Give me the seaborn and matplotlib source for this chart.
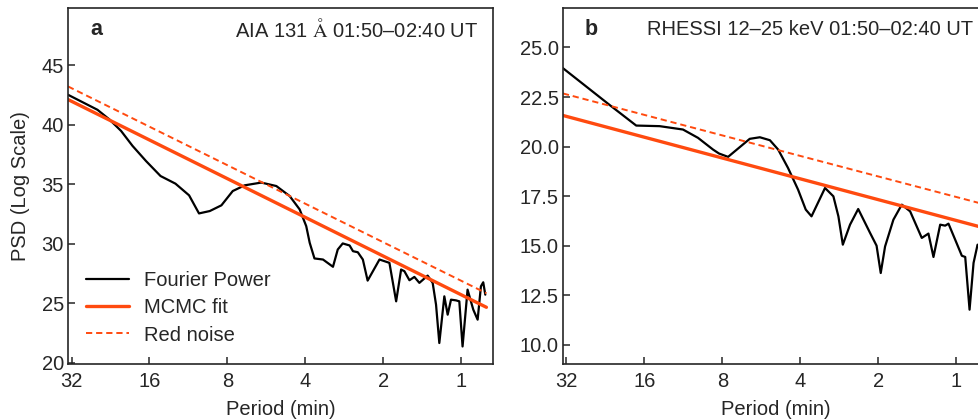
import matplotlib
matplotlib.use("Agg")
import matplotlib.pyplot as plt
import pandas as pd
import seaborn as sns

# Panel a: AIA 131 A Fourier power spectrum (period in min, log PSD)
aia_period = [33.0, 25.4, 22.9, 20.6, 18.6, 16.5, 14.5, 12.7, 11.25, 10.3, 9.36, 8.44,
              7.63, 6.86, 5.92, 5.18, 4.60, 4.21, 3.97, 3.85, 3.69, 3.42, 3.13, 3.00,
              2.87, 2.70, 2.62, 2.51, 2.40, 2.30, 2.07, 1.895, 1.785, 1.708, 1.659,
              1.586, 1.518, 1.452, 1.349, 1.290, 1.252, 1.216, 1.163, 1.129, 1.096,
              1.048, 1.018, 0.989, 0.946, 0.899, 0.865, 0.840, 0.823, 0.808]
aia_power = [42.5, 41.24, 40.45, 39.47, 38.21, 36.94, 35.68, 35.04, 34.06, 32.54, 32.74, 33.22,
             34.42, 34.90, 35.13, 34.84, 34.0, 32.88, 31.47, 30.08, 28.76, 28.67, 28.06, 29.51,
             30.02, 29.85, 29.37, 29.28, 28.67, 26.90, 28.67, 28.39, 25.16, 27.83, 27.69,
             26.93, 27.21, 26.71, 27.32, 26.71, 24.88, 21.66, 25.58, 24.04, 25.30,
             25.24, 25.16, 21.37, 26.14, 24.46, 23.62, 26.42, 26.76, 25.72]
aia_fit_period = [33.0, 0.80]
aia_fit = [42.1, 24.66]
aia_red_noise = [43.2, 25.84]

# Panel b: RHESSI 12-25 keV
hxr_period = [33.1, 21.5, 17.2, 13.97, 11.35, 9.93, 8.69, 8.24, 7.60, 6.27, 5.73, 5.24,
              4.87, 4.46, 4.08, 3.81, 3.62, 3.21, 2.98, 2.85, 2.74, 2.57, 2.39, 2.15,
              2.03, 1.956, 1.882, 1.748, 1.622, 1.506, 1.358, 1.280, 1.224, 1.153, 1.103,
              1.071, 1.009, 0.951, 0.923, 0.888, 0.857, 0.827, 0.815, 0.80]
hxr_power = [23.97, 22.04, 21.06, 21.03, 20.86, 20.44, 19.85, 19.65, 19.48, 20.39, 20.47, 20.32,
             19.85, 18.92, 17.83, 16.82, 16.48, 17.91, 17.49, 16.48, 15.05, 16.06, 16.85, 15.64,
             15.0, 13.62, 14.96, 16.31, 17.07, 16.73, 15.39, 15.61, 14.43, 16.06, 16.01,
             16.11, 15.30, 14.49, 14.43, 11.77, 14.13, 15.05, 14.96, 15.2]
hxr_fit_period = [33.0, 0.814]
hxr_fit = [21.57, 15.96]
hxr_red_noise = [22.68, 17.15]

period_ticks = [32, 16, 8, 4, 2, 1]
aia_yticks = [20, 25, 30, 35, 40, 45]
hxr_yticks = [10.0, 12.5, 15.0, 17.5, 20.0, 22.5, 25.0]

sns.set_style("ticks")
plt.rcParams["font.family"] = ["Liberation Sans", "DejaVu Sans"]
plt.rcParams["mathtext.fontset"] = "stix"
plt.rcParams["xtick.direction"] = "in"
plt.rcParams["ytick.direction"] = "in"

fs = 14.5
fit_color = "#ff4a0f"

fig = plt.figure(figsize=(9.79, 4.19), dpi=100)
ax_a = fig.add_axes([0.0695, 0.1313, 0.434, 0.850])
ax_b = fig.add_axes([0.575, 0.1313, 0.434, 0.850])


def draw_panel(ax, period, power, fit_period, fit, red, letter, title, ylim, yticks, yfmt):
    spec = pd.DataFrame({"period": period, "power": power})
    lines = pd.DataFrame({"period": fit_period, "fit": fit, "red": red})
    sns.lineplot(data=spec, x="period", y="power", ax=ax, color="black", lw=1.6,
                 sort=False, estimator=None, label="Fourier Power")
    sns.lineplot(data=lines, x="period", y="fit", ax=ax, color=fit_color, lw=2.4,
                 sort=False, estimator=None, label="MCMC fit")
    sns.lineplot(data=lines, x="period", y="red", ax=ax, color=fit_color, lw=1.4,
                 sort=False, estimator=None, label="Red noise")
    ax.lines[-1].set_dashes((3.2, 2.0))
    ax.set_xscale("log", base=2)
    ax.set_xlim(33.0, 0.755)
    ax.set_xticks(period_ticks)
    ax.set_xticklabels([str(p) for p in period_ticks])
    ax.minorticks_off()
    ax.set_ylim(*ylim)
    ax.set_yticks(yticks)
    ax.set_yticklabels([yfmt.format(v) for v in yticks])
    ax.tick_params(labelsize=fs, length=5, width=1.1)
    ax.tick_params(axis="x", pad=6)
    ax.tick_params(axis="y", pad=3)
    for s in ax.spines.values():
        s.set_linewidth(1.2)
    ax.set_xlabel("Period (min)", fontsize=fs, labelpad=6)
    ax.set_ylabel("")
    ax.text(0.052, 0.94, letter, transform=ax.transAxes, fontsize=15.5,
            fontweight="bold", va="center", ha="left")
    ax.text(0.965, 0.94, title, transform=ax.transAxes, fontsize=fs,
            va="center", ha="right")


draw_panel(ax_a, aia_period, aia_power, aia_fit_period, aia_fit, aia_red_noise,
           "a", r"AIA 131 $\mathrm{\AA}$ 01:50–02:40 UT", (19.9, 49.8), aia_yticks, "{:.0f}")
draw_panel(ax_b, hxr_period, hxr_power, hxr_fit_period, hxr_fit, hxr_red_noise,
           "b", "RHESSI 12–25 keV 01:50–02:40 UT", (9.03, 27.0), hxr_yticks, "{:.1f}")

ax_a.set_ylabel("PSD (Log Scale)", fontsize=fs, labelpad=8)
ax_a.legend(loc="lower left", frameon=False, fontsize=fs, handlelength=2.1,
            handletextpad=0.75, labelspacing=0.4, borderaxespad=0.3,
            bbox_to_anchor=(0.01, 0.015))
ax_b.get_legend().remove()

fig.savefig("out.png", dpi=100)
